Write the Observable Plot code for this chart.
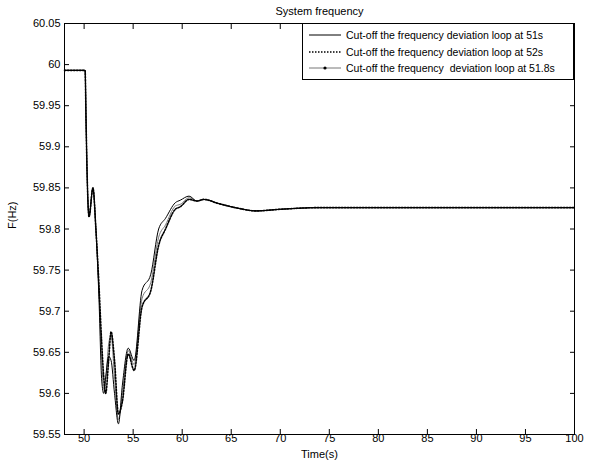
<!DOCTYPE html>
<html>
<head>
<meta charset="utf-8">
<script src="https://cdn.jsdelivr.net/npm/d3@7"></script>
<script src="https://cdn.jsdelivr.net/npm/@observablehq/plot@0.6"></script>
<style>
  body { margin: 0; background: #fff; font-family: "Liberation Sans", Arial, sans-serif; }
  #wrap { position: relative; width: 601px; height: 466px; }
  #legend { position: absolute; left: 302px; top: 23px; width: 272px; height: 57px; border: 1px solid #000;
    background: #fff; font-size: 10.5px; box-sizing: border-box; padding-top: 3px; }
  #legend div { height: 16.5px; display: flex; align-items: center; white-space: pre; }
  #legend svg { margin: 0 5px 0 6px; flex: none; }
</style>
</head>
<body>
<div id="wrap">
  <div id="chart"></div>
  <div id="legend"></div>
</div>
<script>
const times = [48, 50.1, 50.2, 50.3, 50.5, 50.9, 51.2, 51.5, 51.8, 52.0, 52.2, 52.5, 52.75, 53.1, 53.5, 53.9, 54.5, 55.1, 55.9, 56.8, 57.6, 58.3, 59.3, 59.8, 60.7, 61.5, 62.2, 63.7, 65.8, 67.5, 70, 74, 100];
const f51 = [59.993, 59.993, 59.93, 59.87, 59.815, 59.85, 59.80, 59.72, 59.615, 59.600, 59.62, 59.645, 59.64, 59.60, 59.563, 59.61, 59.655, 59.64, 59.725, 59.745, 59.80, 59.813, 59.832, 59.835, 59.840, 59.834, 59.836, 59.831, 59.825, 59.822, 59.824, 59.826, 59.826];
const f52 = [59.993, 59.993, 59.93, 59.87, 59.815, 59.85, 59.80, 59.735, 59.66, 59.62, 59.60, 59.64, 59.675, 59.64, 59.575, 59.59, 59.648, 59.628, 59.705, 59.725, 59.78, 59.80, 59.824, 59.827, 59.836, 59.834, 59.836, 59.831, 59.825, 59.822, 59.824, 59.826, 59.826];
const f518 = [59.993, 59.993, 59.93, 59.87, 59.815, 59.85, 59.80, 59.73, 59.64, 59.605, 59.615, 59.66, 59.67, 59.62, 59.568, 59.60, 59.652, 59.635, 59.715, 59.735, 59.79, 59.805, 59.828, 59.830, 59.838, 59.834, 59.836, 59.831, 59.825, 59.822, 59.824, 59.826, 59.826];
const xTicks = d3.range(50, 101, 5);
const yTicks = d3.range(0, 11).map(i => +(59.55 + i * 0.05).toFixed(2));
const labels = ["Cut-off the frequency deviation loop at 51s", "Cut-off the frequency deviation loop at 52s", "Cut-off the frequency  deviation loop at 51.8s"];

const rows = (vals) => times.map((t, i) => ({t, f: vals[i]}));
const blank = () => "";

const chart = Plot.plot({
  width: 601,
  height: 466,
  marginLeft: 64,
  marginRight: 27,
  marginTop: 23,
  marginBottom: 32,
  style: {fontFamily: "Liberation Sans, Arial, sans-serif", fontSize: "11px", color: "#000"},
  x: {domain: [48, 100]},
  y: {domain: [59.55, 60.05]},
  marks: [
    Plot.line(rows(f518), {x: "t", y: "f", stroke: "#777", strokeWidth: 1, curve: "monotone-x"}),
    Plot.line(rows(f51), {x: "t", y: "f", stroke: "#000", strokeWidth: 1, curve: "monotone-x"}),
    Plot.line(rows(f52), {x: "t", y: "f", stroke: "#000", strokeWidth: 1.6, strokeDasharray: "1.5,1.5", curve: "monotone-x"}),
    Plot.frame({stroke: "#000"}),
    Plot.axisX(xTicks, {anchor: "bottom", tickSize: -5, tickPadding: 5, label: null, fontSize: 11}),
    Plot.axisX(xTicks, {anchor: "top", tickSize: -5, tickFormat: blank, label: null}),
    Plot.axisY(yTicks, {anchor: "left", tickSize: -5, tickPadding: 9, label: null, tickFormat: d => String(d), fontSize: 11}),
    Plot.axisY(yTicks, {anchor: "right", tickSize: -5, tickFormat: blank, label: null}),
    Plot.text(["System frequency"], {frameAnchor: "top", dy: -16, fontSize: 11}),
    Plot.text(["Time(s)"], {frameAnchor: "bottom", dy: 23, fontSize: 11}),
    Plot.text(["F(Hz)"], {frameAnchor: "left", dx: -52, rotate: -90, fontSize: 11})
  ]
});
d3.select("#chart").append(() => chart);

const legend = d3.select("#legend");
const styles = [
  {stroke: "#000", dash: null, w: 1, dot: false},
  {stroke: "#000", dash: "1.5,1.5", w: 1.6, dot: false},
  {stroke: "#777", dash: null, w: 1, dot: true}
];
labels.forEach((lab, i) => {
  const row = legend.append("div");
  const s = row.append("svg").attr("width", 32).attr("height", 6);
  s.append("line").attr("x1", 0).attr("x2", 32).attr("y1", 3).attr("y2", 3)
    .attr("stroke", styles[i].stroke).attr("stroke-width", styles[i].w)
    .attr("stroke-dasharray", styles[i].dash);
  if (styles[i].dot) s.append("circle").attr("cx", 16).attr("cy", 3).attr("r", 1.6).attr("fill", "#000");
  row.append("span").text(lab);
});
</script>
</body>
</html>
